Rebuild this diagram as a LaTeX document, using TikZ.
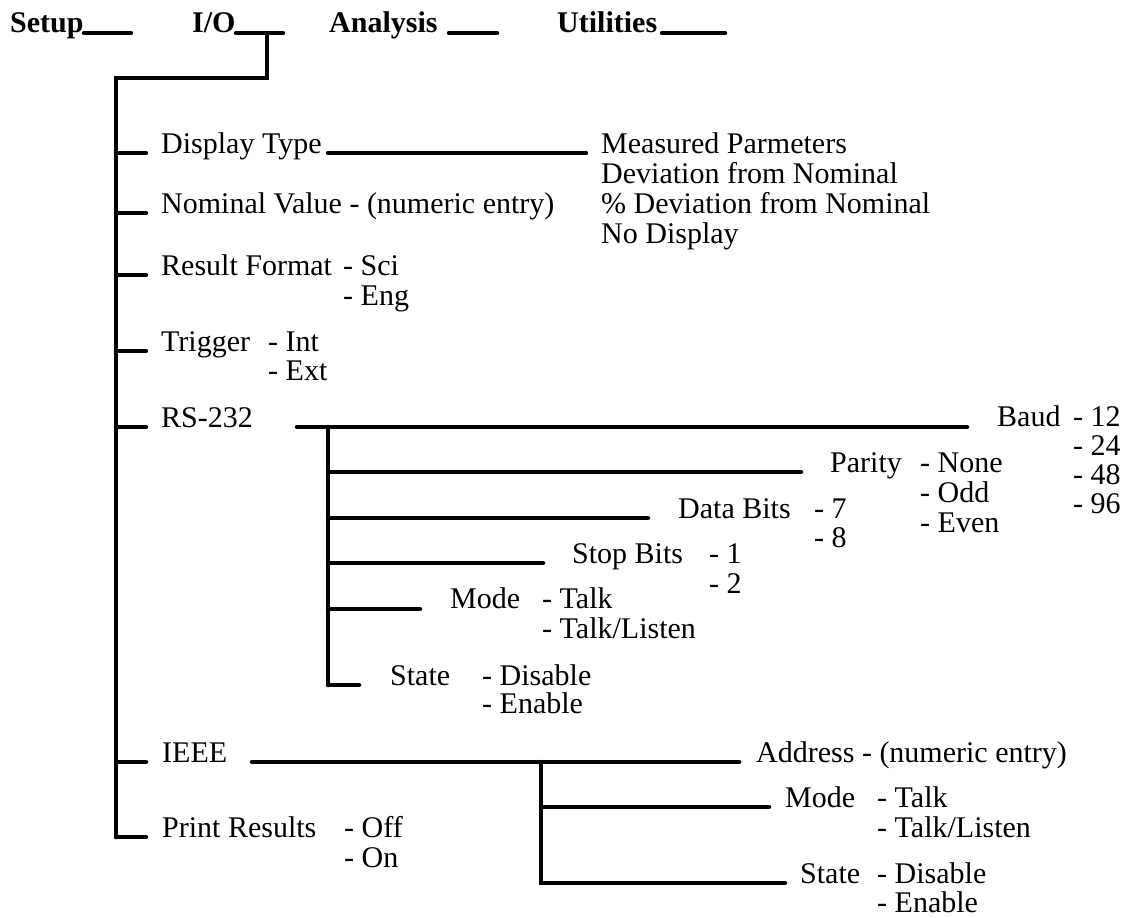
\documentclass[tikz,border=0pt]{standalone}
\usepackage{fontspec}
\setmainfont{Liberation Serif}
\begin{document}
\begin{tikzpicture}[x=1pt,y=1pt,
  ln/.style={line width=4.5pt,line cap=round},
  lbl/.style={anchor=base west,inner sep=0pt,font=\fontsize{30}{34}\selectfont},
  hdr/.style={anchor=base west,inner sep=0pt,font=\bfseries\fontsize{30}{34}\selectfont}]
\useasboundingbox (0,0) rectangle (1128,-918);
% header
\node[hdr] (setup) at (10,-32) {Setup};
\node[hdr] (io) at (192,-32) {I/O};
\node[hdr] (analysis) at (329,-32) {Analysis};
\node[hdr] (utilities) at (557,-32) {Utilities};
\coordinate (s1) at (84,-33); \coordinate (s2) at (131,-33);
\coordinate (i1) at (236,-33); \coordinate (i2) at (283,-33);
\coordinate (ij) at (267,-33); \coordinate (ib) at (267,-78);
\coordinate (mt) at (116,-78); \coordinate (mb) at (116,-837);
\coordinate (a1) at (449,-33); \coordinate (a2) at (497,-33);
\coordinate (u1) at (662,-33); \coordinate (u2) at (725,-33);
\draw[ln] (s1) -- (s2);
\draw[ln] (i1) -- (i2);
\draw[ln] (a1) -- (a2);
\draw[ln] (u1) -- (u2);
\draw[ln] (ij) -- (ib) -- (mt) -- (mb);
% level 1 ticks
\foreach \y/\n in {153/t1,213/t2,275/t3,351/t4,427/t5,762/t6,837/t7}{
  \coordinate (\n a) at (116,-\y); \coordinate (\n b) at (146,-\y);
  \draw[ln] (\n a) -- (\n b);
}
% Display type
\node[lbl] (disp) at (161,-153) {Display Type};
\coordinate (d1) at (328,-153); \coordinate (d2) at (586,-153);
\draw[ln] (d1) -- (d2);
\node[lbl] (m1) at (601,-153) {Measured Parmeters};
\node[lbl] (m2) at (601,-183) {Deviation from Nominal};
\node[lbl] (m3) at (601,-213) {\% Deviation from Nominal};
\node[lbl] (m4) at (601,-243) {No Display};
% Nominal
\node[lbl] (nom) at (161,-213) {Nominal Value - (numeric entry)};
% Result format
\node[lbl] (res) at (161,-275) {Result Format};
\node[lbl] (sci) at (343,-275) {- Sci};
\node[lbl] (eng) at (343,-305) {- Eng};
% Trigger
\node[lbl] (trig) at (161,-351) {Trigger};
\node[lbl] (int) at (268,-351) {- Int};
\node[lbl] (ext) at (268,-380) {- Ext};
% RS-232
\node[lbl] (rs) at (161,-427) {RS-232};
\coordinate (r1) at (297,-427); \coordinate (r2) at (967,-427);
\coordinate (rv) at (328,-427); \coordinate (rvb) at (328,-685);
\draw[ln] (r1) -- (r2);
\draw[ln] (rv) -- (rvb);
\coordinate (rp) at (328,-472); \coordinate (rpe) at (801,-472);
\coordinate (rd) at (328,-518); \coordinate (rde) at (648,-518);
\coordinate (rst) at (328,-563); \coordinate (rste) at (543,-563);
\coordinate (rm) at (328,-609); \coordinate (rme) at (420,-609);
\coordinate (rse) at (359,-685);
\draw[ln] (rp) -- (rpe);
\draw[ln] (rd) -- (rde);
\draw[ln] (rst) -- (rste);
\draw[ln] (rm) -- (rme);
\draw[ln] (rvb) -- (rse);
\node[lbl] (baud) at (997,-426) {Baud};
\node[lbl] (b12) at (1073,-426) {- 12};
\node[lbl] (b24) at (1073,-455) {- 24};
\node[lbl] (b48) at (1073,-484) {- 48};
\node[lbl] (b96) at (1073,-513) {- 96};
\node[lbl] (par) at (830,-472) {Parity};
\node[lbl] (pn) at (920,-472) {- None};
\node[lbl] (po) at (920,-502) {- Odd};
\node[lbl] (pe) at (920,-532) {- Even};
\node[lbl] (db) at (678,-518) {Data Bits};
\node[lbl] (d7) at (814,-518) {- 7};
\node[lbl] (d8) at (814,-547) {- 8};
\node[lbl] (sb) at (572,-563) {Stop Bits};
\node[lbl] (s1n) at (709,-563) {- 1};
\node[lbl] (s2n) at (709,-593) {- 2};
\node[lbl] (rmode) at (450,-608) {Mode};
\node[lbl] (rtalk) at (542,-608) {- Talk};
\node[lbl] (rtl) at (542,-638) {- Talk/Listen};
\node[lbl] (rstate) at (390,-685) {State};
\node[lbl] (rdis) at (482,-685) {- Disable};
\node[lbl] (ren) at (482,-713) {- Enable};
% IEEE
\node[lbl] (ieee) at (162,-762) {IEEE};
\coordinate (e1) at (252,-762); \coordinate (e2) at (739,-762);
\coordinate (ev) at (541,-762); \coordinate (evb) at (541,-883);
\coordinate (em) at (541,-807); \coordinate (eme) at (769,-807);
\coordinate (ese) at (785,-883);
\draw[ln] (e1) -- (e2);
\draw[ln] (ev) -- (evb) -- (ese);
\draw[ln] (em) -- (eme);
\node[lbl] (addr) at (756,-762) {Address - (numeric entry)};
\node[lbl] (emode) at (785,-807) {Mode};
\node[lbl] (etalk) at (877,-807) {- Talk};
\node[lbl] (etl) at (877,-837) {- Talk/Listen};
\node[lbl] (estate) at (800,-883) {State};
\node[lbl] (edis) at (877,-883) {- Disable};
\node[lbl] (een) at (877,-912) {- Enable};
% Print results
\node[lbl] (pr) at (162,-837) {Print Results};
\node[lbl] (off) at (344,-837) {- Off};
\node[lbl] (on) at (344,-867) {- On};
\end{tikzpicture}
\end{document}
